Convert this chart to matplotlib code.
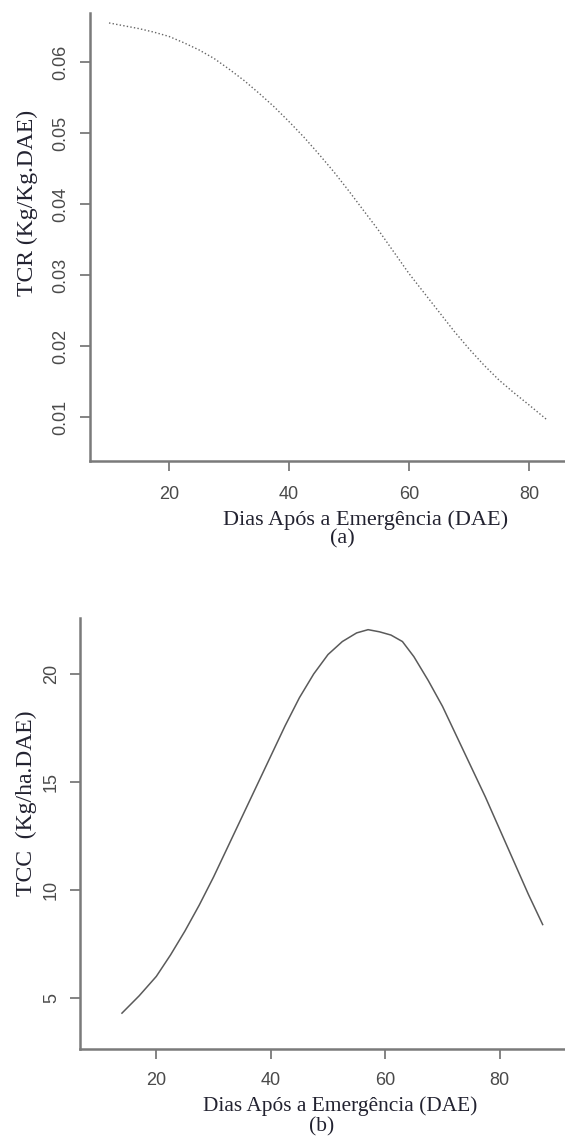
"""Taxa de crescimento relativo (a) e taxa de crescimento da cultura (b)."""

import matplotlib
matplotlib.use("Agg")
import matplotlib.pyplot as plt

# dados
dae_a = [10, 12.5, 15, 17.5, 20, 22.5, 25, 27.5, 30, 32.5, 35, 37.5, 40, 42.5,
         45, 47.5, 50, 52.5, 55, 57.5, 60, 62.5, 65, 67.5, 70, 72.5, 75, 77.5,
         80, 83]
tcr = [0.0655, 0.0651, 0.0647, 0.0642, 0.0636, 0.0627, 0.0617, 0.0605,
       0.0590, 0.0574, 0.0556, 0.0537, 0.0516, 0.0494, 0.0470, 0.0445,
       0.0418, 0.0390, 0.0362, 0.0332, 0.0302, 0.0275, 0.0248, 0.0221,
       0.0196, 0.0173, 0.0152, 0.0134, 0.0117, 0.0096]

dae_b = [14, 17, 20, 22.5, 25, 27.5, 30, 32.5, 35, 37.5, 40, 42.5, 45, 47.5,
         50, 52.5, 55, 57, 59, 61, 63, 65, 67.5, 70, 72.5, 75, 77.5, 80, 82.5,
         85, 87.5]
tcc = [4.3, 5.1, 6.0, 7.0, 8.1, 9.3, 10.6, 12.0, 13.4, 14.8, 16.2, 17.6, 18.9,
       20.0, 20.9, 21.5, 21.9, 22.05, 21.95, 21.8, 21.5, 20.8, 19.7, 18.5,
       17.1, 15.7, 14.3, 12.8, 11.3, 9.8, 8.4]

xticks = [20, 40, 60, 80]
yticks_a = [0.01, 0.02, 0.03, 0.04, 0.05, 0.06]
ylabels_a = ["0.01", "0.02", "0.03", "0.04", "0.05", "0.06"]
yticks_b = [5, 10, 15, 20]
ylabels_b = ["5", "10", "15", "20"]

W, H = 565, 1141
fig = plt.figure(figsize=(W / 100, H / 100), dpi=100)

eixo = "#7a7a7a"
texto_tick = "#4a4a4a"
serif = ["Liberation Serif", "DejaVu Serif"]
sans = ["Liberation Sans", "DejaVu Sans"]


def estilo(ax, pad_y, pad_x):
    for s in ["top", "right"]:
        ax.spines[s].set_visible(False)
    for s in ["left", "bottom"]:
        ax.spines[s].set_color(eixo)
        ax.spines[s].set_linewidth(1.8)
    ax.tick_params(axis="both", colors=eixo, length=7, width=1.3,
                   labelcolor=texto_tick, labelsize=13)
    ax.tick_params(axis="y", pad=pad_y)
    ax.tick_params(axis="x", pad=pad_x)
    for lab in ax.get_xticklabels() + ax.get_yticklabels():
        lab.set_family(sans)
    for lab in ax.get_yticklabels():
        lab.set_rotation(90)
        lab.set_va("center")


def px(x, y):
    return x / W, 1 - y / H


# painel (a)
ax1 = fig.add_axes([90 / W, 1 - 461 / H, 1 - 90 / W, (461 - 13) / H])
ax1.plot(dae_a, tcr, color="#666666", lw=1.0, linestyle=(0, (1, 1.6)))
ax1.set_xlim(6.83, 86.0)
ax1.set_ylim(0.0038, 0.0669)
ax1.set_xticks(xticks)
ax1.set_yticks(yticks_a)
ax1.set_yticklabels(ylabels_a)
estilo(ax1, 8, 11)

# painel (b)
ax2 = fig.add_axes([80 / W, 1 - 1049 / H, 1 - 80 / W, (1049 - 618) / H])
ax2.plot(dae_b, tcc, color="#5a5a5a", lw=1.1)
ax2.set_xlim(6.67, 91.4)
ax2.set_ylim(2.64, 22.59)
ax2.set_xticks(xticks)
ax2.set_yticks(yticks_b)
ax2.set_yticklabels(ylabels_b)
estilo(ax2, 7.5, 9.5)

# rótulos
cor_rot = "#222230"
fig.text(*px(366, 520), "Dias Após a Emergência (DAE)", ha="center", va="center",
         fontsize=16, family=serif, color=cor_rot)
fig.text(*px(342, 539), "(a)", ha="center", va="center", fontsize=16,
         family=serif, color=cor_rot)
fig.text(*px(27, 203), "TCR (Kg/Kg.DAE)", ha="center", va="center", rotation=90,
         fontsize=17, family=serif, color=cor_rot)

fig.text(*px(340, 1106), "Dias Após a Emergência (DAE)", ha="center", va="center",
         fontsize=15.4, family=serif, color=cor_rot)
fig.text(*px(322, 1127), "(b)", ha="center", va="center", fontsize=15.4,
         family=serif, color=cor_rot)
fig.text(*px(26, 803), "TCC  (Kg/ha.DAE)", ha="center", va="center", rotation=90,
         fontsize=17, family=serif, color=cor_rot)

fig.savefig("out.png", dpi=100)
